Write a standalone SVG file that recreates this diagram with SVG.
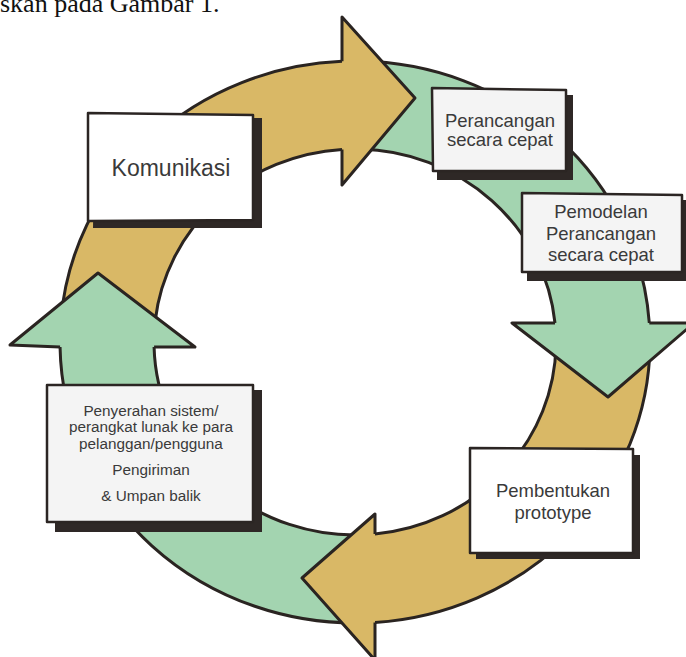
<svg xmlns="http://www.w3.org/2000/svg" width="686" height="657" viewBox="0 0 686 657">
<style>
.tan{fill:#d9b866;stroke:#2a2421;stroke-width:3;stroke-linejoin:round}
.grn{fill:#a3d4b0;stroke:#2a2421;stroke-width:3;stroke-linejoin:round}
.shadow{fill:#2e2826}
.face{stroke:#2b2523;stroke-width:2.5;stroke-linejoin:round}
.w{fill:#ffffff}
.g{fill:#f4f4f4}
.t{font-family:"Liberation Sans",Arial,sans-serif;fill:#3a3a3a;text-anchor:middle}
</style>
<rect width="686" height="657" fill="#ffffff"/>
<text x="0" y="12" font-family="'Liberation Serif','Times New Roman',serif" font-size="26" fill="#111">skan pada Gambar 1.</text>
<g id="connectors">
  <path class="tan" d="M 342 149.4 A 201 193 0 0 0 155.3 320 L 60.9 320 A 295 281 0 0 1 342 61.3"/>
  <path class="grn" d="M 555 323 A 201 193 0 0 0 360 149.06 L 360 61.04 A 295 281 0 0 1 649.3 323"/>
  <path class="tan" d="M 375 534.04 A 201 193 0 0 0 556 345 L 650 345 A 295 281 0 0 1 375 622.4"/>
  <path class="grn" d="M 154.07 347 A 201 193 0 0 0 365 534.76 L 365 622.84 A 295 281 0 0 1 60.05 347"/>
  <path class="tan" d="M 342 61.3 L 342 17 L 415 98 L 342 185 L 342 149.4"/>
  <path class="grn" d="M 649.3 323 L 694 323 L 608 397 L 512 323 L 555 323"/>
  <path class="tan" d="M 375 622.4 L 375 660 L 302 578 L 375 514 L 375 534.04"/>
  <path class="grn" d="M 60.05 347 L 10 345 L 98 273 L 195 347 L 154.07 347"/>
</g>
<g id="komunikasi">
  <polygon class="shadow" points="95,120 262,118 262,228 93,228"/>
  <polygon class="face w" points="88,113 253,115 253,220 88,221"/>
  <text class="t" x="171" y="176" font-size="23">Komunikasi</text>
</g>
<g id="perancangan">
  <polygon class="shadow" points="437,95 573,95 573,180 437,180"/>
  <polygon class="face g" points="432,88 566,90 566,171 433,171"/>
  <text class="t" x="500" y="127" font-size="18.5">Perancangan</text>
  <text class="t" x="500" y="146" font-size="18.5">secara cepat</text>
</g>
<g id="pemodelan">
  <polygon class="shadow" points="527,200 688,200 688,281 527,281"/>
  <polygon class="face g" points="522,193 682,195 682,272 522,272"/>
  <text class="t" x="601" y="218" font-size="18.5">Pemodelan</text>
  <text class="t" x="601" y="239.5" font-size="18.5">Perancangan</text>
  <text class="t" x="601" y="261" font-size="18.5">secara cepat</text>
</g>
<g id="pembentukan">
  <polygon class="shadow" points="476,455 640,455 640,559 476,559"/>
  <polygon class="face w" points="470,448 633,449 633,553 470,553"/>
  <text class="t" x="553" y="497" font-size="18.5">Pembentukan</text>
  <text class="t" x="553" y="519" font-size="18.5">prototype</text>
</g>
<g id="penyerahan">
  <polygon class="shadow" points="55,390 262,390 262,532 55,532"/>
  <polygon class="face g" points="47,385 253,385 253,522 47,522"/>
  <text class="t" x="151" y="415.5" font-size="15.3">Penyerahan sistem/</text>
  <text class="t" x="151" y="432" font-size="15.3">perangkat lunak ke para</text>
  <text class="t" x="151" y="448.5" font-size="15.3">pelanggan/pengguna</text>
  <text class="t" x="151" y="475" font-size="15.3">Pengiriman</text>
  <text class="t" x="151" y="501" font-size="15.3">&amp; Umpan balik</text>
</g>
</svg>
